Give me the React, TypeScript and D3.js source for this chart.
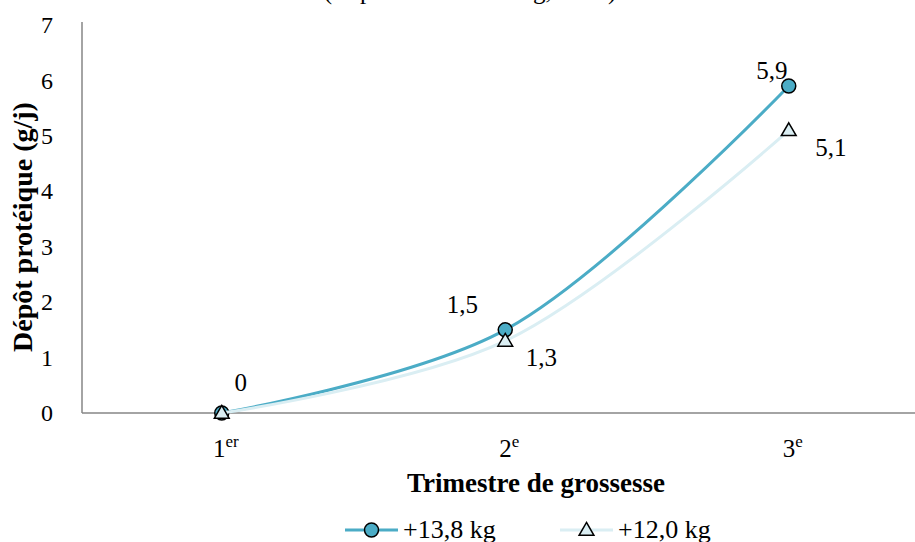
import React from "react";
import * as d3 from "d3";

const categories = ["1", "2", "3"];
const categorySup = ["er", "e", "e"];
const seriesA = [0, 1.5, 5.9];
const seriesB = [0, 1.3, 5.1];
const seriesNames = ["+13,8 kg", "+12,0 kg"];
const labelsA = ["0", "1,5", "5,9"];
const labelsB = ["", "1,3", "5,1"];
const yTicks = [0, 1, 2, 3, 4, 5, 6, 7];
const title = "(d'après Hitchin 12 kg, 1981)";

const W = 915;
const H = 542;
const FONT = "'Liberation Serif'";
const COLOR_A = "#4BACC6";
const COLOR_B = "#DAEEF3";
const AXIS = "#868686";

// label offsets (pixels) relative to point, as placed in the original chart
const offA = [[19, -31], [-43, -25], [-17, -15]];
const offB = [[0, 0], [36, 17], [42, 17]];

export default function App() {
  const x = d3.scaleBand<string>().domain(categories).range([80, 930.5]);
  const y = d3.scaleLinear().domain([0, 7]).range([413, 25]);
  const cx = (c: string) => (x(c) as number) + x.bandwidth() / 2;

  const line = d3
    .line<number>()
    .x((_, i) => cx(categories[i]))
    .y((d) => y(d))
    .curve(d3.curveCatmullRom.alpha(0.5));

  const tri = d3.symbol().type(d3.symbolTriangle).size(95)();
  const txt = { fontFamily: FONT };

  return (
    <svg width={W} height={H} style={{ position: "absolute", left: 0, top: 0, background: "#fff" }}>
      <rect x={0} y={0} width={W} height={H} fill="#fff" />
      <text x={470} y={-1} textAnchor="middle" fontSize={25} fill="#000" style={txt}>
        {title}
      </text>

      {/* axes */}
      <line x1={82} x2={82} y1={y(7) - 3} y2={y(0)} stroke={AXIS} strokeWidth={1.5} />
      <line x1={82} x2={W} y1={y(0)} y2={y(0)} stroke={AXIS} strokeWidth={1.5} />

      {yTicks.map((t) => (
        <text key={t} x={53} y={y(t)} dy="0.34em" textAnchor="end" fontSize={24} fill="#000" style={txt}>
          {t}
        </text>
      ))}

      {categories.map((c, i) => (
        <text key={c} x={cx(c) + 4} y={457} textAnchor="middle" fontSize={25} fill="#000" style={txt}>
          {c}
          <tspan fontSize={17} dy={-10}>
            {categorySup[i]}
          </tspan>
        </text>
      ))}

      <text x={536} y={492} textAnchor="middle" fontSize={27} fontWeight="bold" fill="#000" style={txt}>
        Trimestre de grossesse
      </text>
      <text
        transform={`translate(32, ${(y(0) + y(7)) / 2 + 8}) rotate(-90)`}
        textAnchor="middle"
        fontSize={28}
        fontWeight="bold"
        fill="#000"
        style={txt}
      >
        Dépôt protéique (g/j)
      </text>

      {/* series A */}
      <path d={line(seriesA) || ""} fill="none" stroke={COLOR_A} strokeWidth={3} />
      {seriesA.map((v, i) => (
        <circle key={"a" + i} cx={cx(categories[i])} cy={y(v)} r={7} fill={COLOR_A} stroke="#000" strokeWidth={1.5} />
      ))}

      {/* series B */}
      <path d={line(seriesB) || ""} fill="none" stroke={COLOR_B} strokeWidth={3} />
      {seriesB.map((v, i) => (
        <path
          key={"b" + i}
          d={tri || ""}
          transform={`translate(${cx(categories[i])}, ${y(v) + 1})`}
          fill={COLOR_B}
          stroke="#000"
          strokeWidth={1.5}
        />
      ))}

      {seriesA.map((v, i) => (
        <text
          key={"la" + i}
          x={cx(categories[i]) + offA[i][0]}
          y={y(v) + offA[i][1]}
          dy="0.34em"
          textAnchor="middle"
          fontSize={25}
          fill="#000"
          style={txt}
        >
          {labelsA[i]}
        </text>
      ))}
      {seriesB.map((v, i) => (
        <text
          key={"lb" + i}
          x={cx(categories[i]) + offB[i][0]}
          y={y(v) + offB[i][1]}
          dy="0.34em"
          textAnchor="middle"
          fontSize={25}
          fill="#000"
          style={txt}
        >
          {labelsB[i]}
        </text>
      ))}

      {/* legend */}
      <line x1={345} x2={398} y1={530} y2={530} stroke={COLOR_A} strokeWidth={3} />
      <circle cx={371.5} cy={530} r={7} fill={COLOR_A} stroke="#000" strokeWidth={1.5} />
      <text x={403} y={538} fontSize={26} fill="#000" style={txt}>
        {seriesNames[0]}
      </text>
      <line x1={560} x2={613} y1={530} y2={530} stroke={COLOR_B} strokeWidth={3} />
      <path d={tri || ""} transform="translate(586.5, 531)" fill={COLOR_B} stroke="#000" strokeWidth={1.5} />
      <text x={618} y={538} fontSize={26} fill="#000" style={txt}>
        {seriesNames[1]}
      </text>
    </svg>
  );
}
